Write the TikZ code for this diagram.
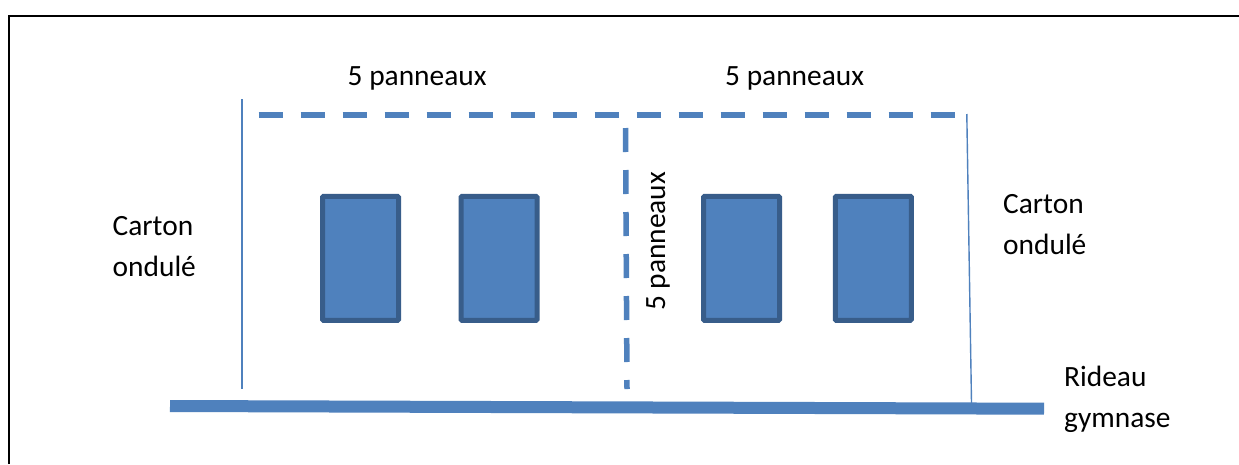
\documentclass[tikz,border=0pt]{standalone}
\usepackage{fontspec}
\setmainfont{Carlito}
\usepackage{tikz}
\definecolor{panelblue}{HTML}{4F81BD}
\definecolor{paneledge}{HTML}{385D8A}
\tikzset{%
  PanelStyle/.style={draw=paneledge,fill=panelblue,line width=5pt,rounded corners=1pt,minimum width=76pt,minimum height=124pt,inner sep=0pt},
  DashStyle/.style={draw=panelblue,line width=6pt,dash pattern=on 24pt off 18pt},
  WallStyle/.style={draw=panelblue,line width=1.8pt},
  LabelStyle/.style={font=\fontsize{29.4pt}{41pt}\selectfont,align=left,inner sep=0pt}
}
\begin{document}
\begin{tikzpicture}[x=1pt,y=-1pt]
  \useasboundingbox (0,0) rectangle (1239,464);
  \fill[white] (0,0) rectangle (1239,464);
  % cadre
  \coordinate (c1) at (9,464);
  \coordinate (c2) at (9,16);
  \coordinate (c3) at (1239,16);
  \draw[black,line width=2pt] (c1) -- (c2) -- (c3);
  % panneaux
  \foreach \name/\xi in {p1/360.5,p2/499,p3/741.5,p4/873.3}{
    \node[PanelStyle] (\name) at (\xi,258.3) {};
  }
  % rideau
  \coordinate (r1) at (170,406);
  \coordinate (r2) at (1044,408.7);
  \draw[panelblue,line width=12pt] (r1) -- (r2);
  % pointilles
  \coordinate (h1) at (258.6,114.5);
  \coordinate (h2) at (958,114.5);
  \coordinate (v1) at (625.5,128);
  \coordinate (v2) at (627,389);
  \draw[DashStyle] (h1) -- (h2);
  \draw[DashStyle,line width=5.5pt] (v1) -- (v2);
  % carton
  \coordinate (w1) at (242,99);
  \coordinate (w2) at (242,388.7);
  \coordinate (w3) at (966.8,114);
  \coordinate (w4) at (971.5,403);
  \draw[WallStyle] (w1) -- (w2);
  \draw[WallStyle,line width=1.4pt] (w3) -- (w4);
  % textes
  \node[LabelStyle,anchor=base west] (t1) at (347.5,85.5) {5 panneaux};
  \node[LabelStyle,anchor=base west] (t2) at (725,85.5) {5 panneaux};
  \node[LabelStyle,anchor=base west,rotate=90] (t3) at (665,311) {5 panneaux};
  \node[LabelStyle,anchor=base west] (t4) at (112.5,276) {Carton\\ondulé};
  \node[LabelStyle,anchor=base west] (t5) at (1003,254.3) {Carton\\ondulé};
  \node[LabelStyle,anchor=base west] (t6) at (1064,427) {Rideau\\gymnase};
\end{tikzpicture}
\end{document}
